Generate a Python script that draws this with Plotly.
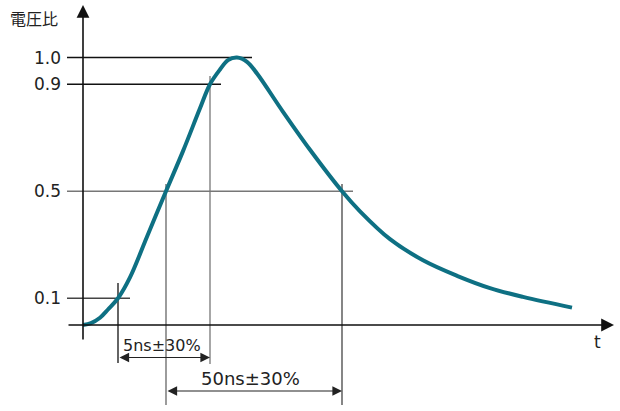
import plotly.graph_objects as go

# ---------------- data ----------------
# time in arbitrary drawing units (t = 0 at the vertical axis), value = voltage ratio
t_curve = [0, 8, 17, 25, 35, 47, 64, 83, 100, 117, 127, 137, 145, 154, 164, 174,
           200, 227, 259, 277, 307, 340, 374, 407, 440, 489]
v_curve = [0.0, 0.007, 0.027, 0.058, 0.1, 0.178, 0.33, 0.5, 0.65, 0.81, 0.9, 0.955,
           0.990, 1.0, 0.984, 0.94, 0.797, 0.655, 0.5, 0.425, 0.321,
           0.242, 0.184, 0.138, 0.105, 0.065]

level_values = [1.0, 0.9, 0.5, 0.1]
level_labels = ["1.0", "0.9", "0.5", "0.1"]
level_line_end = [169, 138, 270, 47]      # t where each reference line stops
level_colors = ["#111111", "#111111", "#777777", "#444444"]

t10, t50_rise, t90, t50_fall = 35, 83, 127, 259   # crossing times
rise_label = "5ns±30%"
width_label = "50ns±30%"
y_title = "電圧比"
x_title = "t"

# ---------------- layout helpers ----------------
W, H = 620, 411
X0 = 83                    # pixel column of t = 0
V0_PX, V1_PX = 325.0, 57.5  # pixel rows of value 0 and value 1
SCALE = V0_PX - V1_PX


def vpx(px):
    """pixel row -> y data coordinate (layout placement only)"""
    return (V0_PX - px) / SCALE


LATIN = "DejaVu Sans"
CJK = "Noto Sans CJK JP"
CURVE = "#0e7083"

fig = go.Figure()
fig.add_trace(go.Scatter(
    x=t_curve, y=v_curve, mode="lines",
    line=dict(color=CURVE, width=4, shape="spline", smoothing=1.0),
    hoverinfo="skip", showlegend=False))

shapes = []
# horizontal reference lines at the levels
for lv, xe, col in zip(level_values, level_line_end, level_colors):
    shapes.append(dict(type="line", xref="x", yref="y", x0=-16, x1=xe, y0=lv, y1=lv,
                       line=dict(color=col, width=1.3), layer="below"))
# vertical reference lines at the crossings
vlines = [(t10, 283, 363, "#111111"), (t50_rise, 184, 405, "#666666"),
          (t90, 76, 364, "#777777"), (t50_fall, 184, 405, "#444444")]
for tx, ytop, ybot, col in vlines:
    shapes.append(dict(type="line", xref="x", yref="y", x0=tx, x1=tx,
                       y0=vpx(ybot), y1=vpx(ytop),
                       line=dict(color=col, width=1.3), layer="below"))

annotations = []
# vertical axis with arrow
annotations.append(dict(xref="x", yref="y", x=0, y=vpx(5), axref="x", ayref="y",
                        ax=0, ay=vpx(341), text="", showarrow=True, arrowhead=2,
                        arrowsize=1.6, arrowwidth=1.6, arrowcolor="#111111", standoff=0))
# horizontal axis with arrow
annotations.append(dict(xref="x", yref="y", x=614 - X0, y=0, axref="x", ayref="y",
                        ax=-16, ay=0, text="", showarrow=True, arrowhead=2,
                        arrowsize=1.6, arrowwidth=1.6, arrowcolor="#111111", standoff=0))
# level labels
for lv, lab in zip(level_values, level_labels):
    annotations.append(dict(xref="x", yref="y", x=-20, y=lv, text=lab, showarrow=False,
                            xanchor="right", yanchor="middle",
                            font=dict(family=LATIN, size=17, color="#222222")))
# axis titles
annotations.append(dict(xref="paper", yref="paper", x=34 / W, y=1 - 18 / H, text=y_title,
                        showarrow=False, xanchor="center", yanchor="middle",
                        font=dict(family=CJK, size=16, color="#222222")))
annotations.append(dict(xref="x", yref="y", x=597 - X0, y=vpx(342), text=x_title,
                        showarrow=False, xanchor="center", yanchor="middle",
                        font=dict(family=LATIN, size=17, color="#222222")))
# dimension arrows
for ta, tb, ypx in [(t10, t90, 357.5), (t50_rise, t50_fall, 391)]:
    annotations.append(dict(xref="x", yref="y", x=tb, y=vpx(ypx), axref="x", ayref="y",
                            ax=ta, ay=vpx(ypx), text="", showarrow=True,
                            arrowside="end+start", arrowhead=2, startarrowhead=2,
                            arrowsize=1.6, startarrowsize=1.6, arrowwidth=1.2,
                            arrowcolor="#222222", standoff=0, startstandoff=0))
annotations.append(dict(xref="x", yref="y", x=(t10 + t90) / 2 - 2, y=vpx(345), text=rise_label,
                        showarrow=False, xanchor="center", yanchor="middle",
                        font=dict(family=LATIN, size=16, color="#222222")))
annotations.append(dict(xref="x", yref="y", x=(t50_rise + t50_fall) / 2 - 4, y=vpx(378),
                        text=width_label, showarrow=False, xanchor="center", yanchor="middle",
                        font=dict(family=LATIN, size=18, color="#222222")))

fig.update_layout(
    width=W, height=H, margin=dict(l=0, r=0, t=0, b=0, autoexpand=False),
    paper_bgcolor="white", plot_bgcolor="white",
    xaxis=dict(range=[-X0, W - X0], visible=False, fixedrange=True),
    yaxis=dict(range=[vpx(H), vpx(0)], visible=False, fixedrange=True),
    shapes=shapes, annotations=annotations, showlegend=False,
)

fig.write_html("out.html",
               config=dict(displayModeBar=False, staticPlot=True),
               post_script="document.body.style.margin='0px';"
                           "document.body.style.overflow='hidden';")
